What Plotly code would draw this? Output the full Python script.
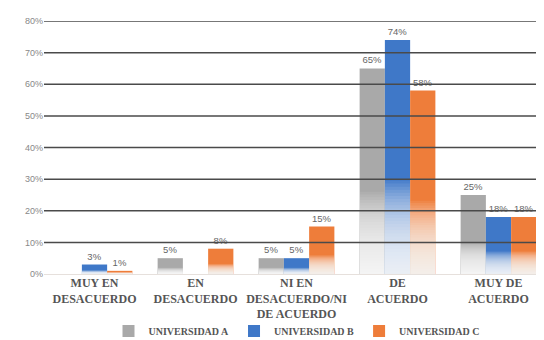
import plotly.graph_objects as go

categories = ["MUY EN<br>DESACUERDO", "EN<br>DESACUERDO", "NI EN<br>DESACUERDO/NI<br>DE ACUERDO",
              "DE<br>ACUERDO", "MUY DE<br>ACUERDO"]
univ_a = [None, 5, 5, 65, 25]
univ_b = [3, None, 5, 74, 18]
univ_c = [1, 8, 15, 58, 18]
series_names = ["UNIVERSIDAD A", "UNIVERSIDAD B", "UNIVERSIDAD C"]
colors = ["#a9a9a9", "#3f78c8", "#ee7d3a"]
y_ticks = [0, 0.1, 0.2, 0.3, 0.4, 0.5, 0.6, 0.7, 0.8]

SERIF = "Liberation Serif"
SANS = "Liberation Sans"

fig = go.Figure()
for i, (name, vals, col) in enumerate(zip(series_names, [univ_a, univ_b, univ_c], colors)):
    fig.add_trace(go.Bar(
        x=categories, y=[v / 100 if v is not None else None for v in vals],
        name=f"<b>{name}</b>", offsetgroup=str(i),
        marker=dict(color=col, line=dict(width=0)),
        text=[f"{v}%" if v is not None else "" for v in vals],
        textposition="outside", cliponaxis=False,
        textfont=dict(family=SANS, size=9.5, color="#666666"),
    ))
    # white fade towards the bottom of each bar
    steps = 30
    for k in range(1, steps + 1):
        fig.add_trace(go.Bar(
            x=categories,
            y=[v / 100 * 0.4 * k / steps if v is not None else None for v in vals],
            offsetgroup=str(i), showlegend=False, hoverinfo="skip",
            marker=dict(color="white", opacity=0.08, line=dict(width=0)),
        ))

# gridlines drawn over the bars, as in the original
for t in y_ticks[1:]:
    fig.add_shape(type="line", xref="paper", yref="y", x0=0, x1=1, y0=t, y1=t,
                  line=dict(color="#4a4a4a", width=1.5), layer="above")

fig.update_layout(
    width=544, height=340,
    margin=dict(l=36, r=3, t=13, b=72),
    paper_bgcolor="white", plot_bgcolor="white",
    barmode="group", bargap=0.25, bargroupgap=0,
    showlegend=True,
    legend=dict(orientation="h", x=0.5, xanchor="center", y=-0.225, yanchor="middle",
                bgcolor="rgba(0,0,0,0)",
                font=dict(family=SERIF, size=10, color="#555555"),
                itemwidth=30, traceorder="normal"),
    font=dict(family=SERIF),
)
fig.update_yaxes(range=[0, 0.8], tickvals=y_ticks, tickformat=".0%",
                 showgrid=False,
                 zeroline=True, zerolinecolor="#e6e0dc", zerolinewidth=1,
                 tickfont=dict(family=SANS, size=9, color="#888888"), ticks="", showline=False)
fig.update_xaxes(tickfont=dict(family=SERIF, size=12, color="#555555"),
                 ticktext=[f"<b>{c}</b>" for c in categories], tickvals=categories,
                 showline=False, ticks="", tickangle=0)

fig.write_html("out.html")
